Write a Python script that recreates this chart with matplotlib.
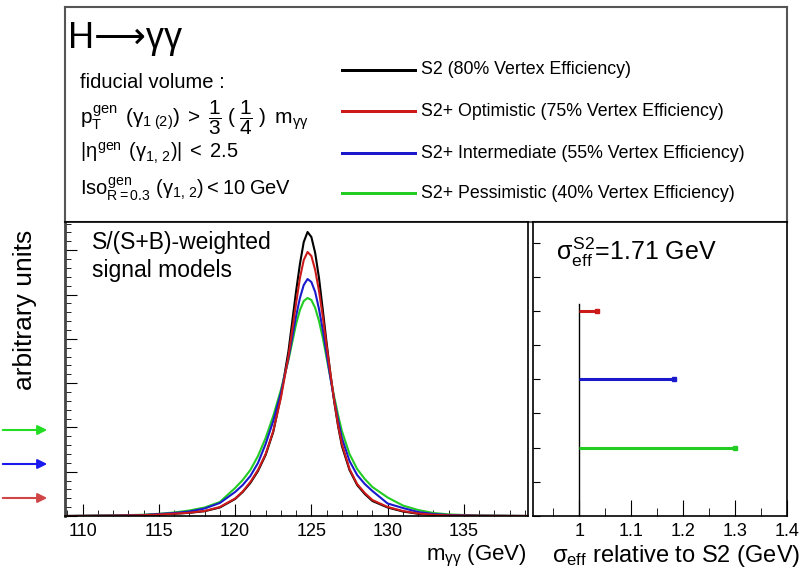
import matplotlib
matplotlib.use("Agg")
import matplotlib.pyplot as plt
from matplotlib.ticker import MultipleLocator, FixedLocator, FixedFormatter

plt.rcParams["font.family"] = ["Liberation Sans", "DejaVu Sans"]
plt.rcParams["mathtext.fontset"] = "custom"
plt.rcParams["mathtext.rm"] = "Liberation Sans"
plt.rcParams["mathtext.it"] = "Liberation Sans"
plt.rcParams["mathtext.bf"] = "Liberation Sans:bold"

# signal model shapes (arbitrary units)
mgg = [108.9, 112, 114, 115, 116, 117, 118, 119, 120, 120.5, 121, 121.5, 122, 122.5,
       123, 123.5, 124, 124.25, 124.5, 124.75, 125, 125.25, 125.5, 125.75, 126,
       126.25, 126.5, 126.75, 127, 127.5, 128, 128.5, 129, 130, 131, 132, 133, 134,
       136, 139.2]
s2 = [0, 0.3, 0.8, 1.4, 2.2, 3.2, 4.8, 8.5, 17, 24, 33, 45, 61, 84,
      120, 165, 225, 252, 274, 284, 279, 263, 238, 206, 173,
      142, 114, 90, 70, 46, 31, 22, 15, 8.5, 4.5, 2.2, 1.1, 0.5, 0.2, 0]
s2_opt = [0, 0.3, 0.8, 1.5, 2.3, 3.3, 5, 9, 17.5, 24.5, 34, 46, 62, 85,
          118, 160, 213, 238, 256, 264, 260, 246, 225, 199, 170,
          142, 115, 91, 72, 47, 32, 23, 16, 9, 5, 2.5, 1.2, 0.6, 0.2, 0]
s2_int = [0, 0.4, 1, 2, 3, 4.5, 7.5, 13, 24, 31, 40, 53, 72, 95,
          123, 158, 200, 218, 231, 237, 234, 224, 207, 186, 162,
          138, 116, 96, 78, 55, 41, 32, 25, 12.5, 8, 4, 2, 1, 0.3, 0]
s2_pes = [0, 0.5, 1.3, 2.2, 3.5, 5.5, 8.5, 14, 28, 36, 46, 60, 78, 100,
          126, 156, 192, 206, 215, 218, 216, 208, 195, 178, 158,
          138, 119, 101, 85, 62, 47, 37, 29, 18.5, 10.5, 6, 3, 1.6, 0.4, 0]

# sigma_eff relative to S2
rel_names = ["S2+ Optimistic", "S2+ Intermediate", "S2+ Pessimistic"]
rel_sigma = [1.035, 1.183, 1.30]
rel_row = [6, 4, 2]

legend_labels = ["S2 (80% Vertex Efficiency)",
                 "S2+ Optimistic (75% Vertex Efficiency)",
                 "S2+ Intermediate (55% Vertex Efficiency)",
                 "S2+ Pessimistic (40% Vertex Efficiency)"]
colors = ["black", "#cc1a1a", "#1a1acc", "#22cc22"]
arrow_colors = ["#d04545", "#1a1aee", "#22dd22"]

x_ticks_left = [110, 115, 120, 125, 130, 135]
x_ticks_right = [1.0, 1.1, 1.2, 1.3, 1.4]
x_ticklabels_right = ["1", "1.1", "1.2", "1.3", "1.4"]

W, H = 806, 574
fig = plt.figure(figsize=(W / 100, H / 100), dpi=100)


def box(x0, y0, x1, y1):
    return [x0 / W, 1 - y1 / H, (x1 - x0) / W, (y1 - y0) / H]


PT = 0.72  # px -> pt at 100 dpi

# top info box
top = fig.add_axes(box(65, 7, 787, 222))
top.set_xticks([])
top.set_yticks([])
for sp in top.spines.values():
    sp.set_color("#555555")
    sp.set_linewidth(1.5)

# left panel: signal models
ax1 = fig.add_axes(box(65, 222, 528, 516))
ax1.plot(mgg, s2, color=colors[0], lw=1.5)
ax1.plot(mgg, s2_pes, color=colors[3], lw=1.5)
ax1.plot(mgg, s2_int, color=colors[2], lw=1.5)
ax1.plot(mgg, s2_opt, color=colors[1], lw=1.5)
ax1.set_xlim(108.85, 139.2)
ax1.set_ylim(0, 294)
ax1.xaxis.set_major_locator(FixedLocator(x_ticks_left))
ax1.xaxis.set_minor_locator(MultipleLocator(1))
ax1.yaxis.set_major_locator(MultipleLocator(44.3))
ax1.yaxis.set_minor_locator(MultipleLocator(44.3 / 5))
ax1.yaxis.set_major_formatter(FixedFormatter([]))
ax1.tick_params(axis="both", which="both", direction="in", top=False, right=False)
ax1.tick_params(axis="x", which="major", length=12 * PT, labelsize=13, pad=5)
ax1.tick_params(axis="x", which="minor", length=6 * PT)
ax1.tick_params(axis="y", which="major", length=12 * PT)
ax1.tick_params(axis="y", which="minor", length=6 * PT)
for sp in ax1.spines.values():
    sp.set_linewidth(1.2)
ax1.spines["left"].set_color("#444444")
ax1.spines["left"].set_linewidth(2)

# right panel: sigma_eff relative to S2
ax2 = fig.add_axes(box(533, 222, 787, 516))
ax2.plot([1, 1], [0, 6.2], color="black", lw=1)
for val, row, c in zip(rel_sigma, rel_row, colors[1:]):
    ax2.plot([1, val], [row, row], color=c, lw=2.2, solid_capstyle="butt")
    ax2.plot([val], [row], "s", color=c, ms=3.5)
ax2.set_xlim(0.911, 1.4)
ax2.set_ylim(0, 8.6)
ax2.xaxis.set_major_locator(FixedLocator(x_ticks_right))
ax2.xaxis.set_major_formatter(FixedFormatter(x_ticklabels_right))
ax2.xaxis.set_minor_locator(FixedLocator([0.95, 1.05, 1.15, 1.25, 1.35]))
ax2.yaxis.set_major_locator(MultipleLocator(1))
ax2.set_yticklabels([])
ax2.tick_params(axis="both", which="both", direction="in", top=False, right=False)
ax2.tick_params(axis="x", which="major", length=16 * PT, labelsize=13, pad=5)
ax2.tick_params(axis="x", which="minor", length=8 * PT)
ax2.tick_params(axis="y", which="major", length=7 * PT)
for sp in ax2.spines.values():
    sp.set_linewidth(1.2)

# overlay in figure pixels for free text, legend and arrows
ov = fig.add_axes([0, 0, 1, 1])
ov.set_xlim(0, W)
ov.set_ylim(H, 0)
ov.axis("off")
ov.patch.set_alpha(0)

ov.text(68, 38, "H\u27f6\u03b3\u03b3", fontsize=26, va="center", ha="left")
ov.text(80, 82, "fiducial volume :", fontsize=14.5, va="center")
ov.text(80, 118,
        r"$p_{T}^{gen}\;\,(\gamma_{1\;(2)})\;>\;\dfrac{1}{3}\;(\;\dfrac{1}{4}\;)\;\;m_{\gamma\gamma}$",
        fontsize=15, va="center")
ov.text(80, 153, r"$|\eta^{gen}\;\,(\gamma_{1,\,2})|\;<\;2.5$", fontsize=14.5, va="center")
ov.text(80, 189, r"$Iso^{gen}_{R=0.3}\,\,(\gamma_{1,\,2}) < 10\;GeV$", fontsize=14.5, va="center")

for i, (lab, c) in enumerate(zip(legend_labels, colors)):
    y = [70, 111, 153, 193][i]
    ov.plot([342, 415], [y, y], color=c, lw=3 * PT)
    ov.text(421, y, lab, fontsize=12.8, va="center")

ov.text(92, 243, "S/(S+B)-weighted", fontsize=16.5, va="center")
ov.text(92, 271, "signal models", fontsize=16.5, va="center")
ov.text(556, 252, r"$\sigma_{eff}^{S2}$=1.71 GeV", fontsize=18, va="center")

ov.text(25, 310, "arbitrary units", fontsize=19, rotation=90, va="center", ha="center")
ov.text(527, 556, r"$m_{\gamma\gamma}$ (GeV)", fontsize=16, va="center", ha="right")
ov.text(800, 556, r"$\sigma_{eff}$ relative to S2 (GeV)", fontsize=17, va="center", ha="right")

for y, c in zip([430, 464, 498], arrow_colors[::-1]):
    ov.annotate("", xy=(50, y), xytext=(0, y),
                arrowprops=dict(arrowstyle="-|>", color=c, lw=1.5, mutation_scale=14))

fig.savefig("out.png", dpi=100)
